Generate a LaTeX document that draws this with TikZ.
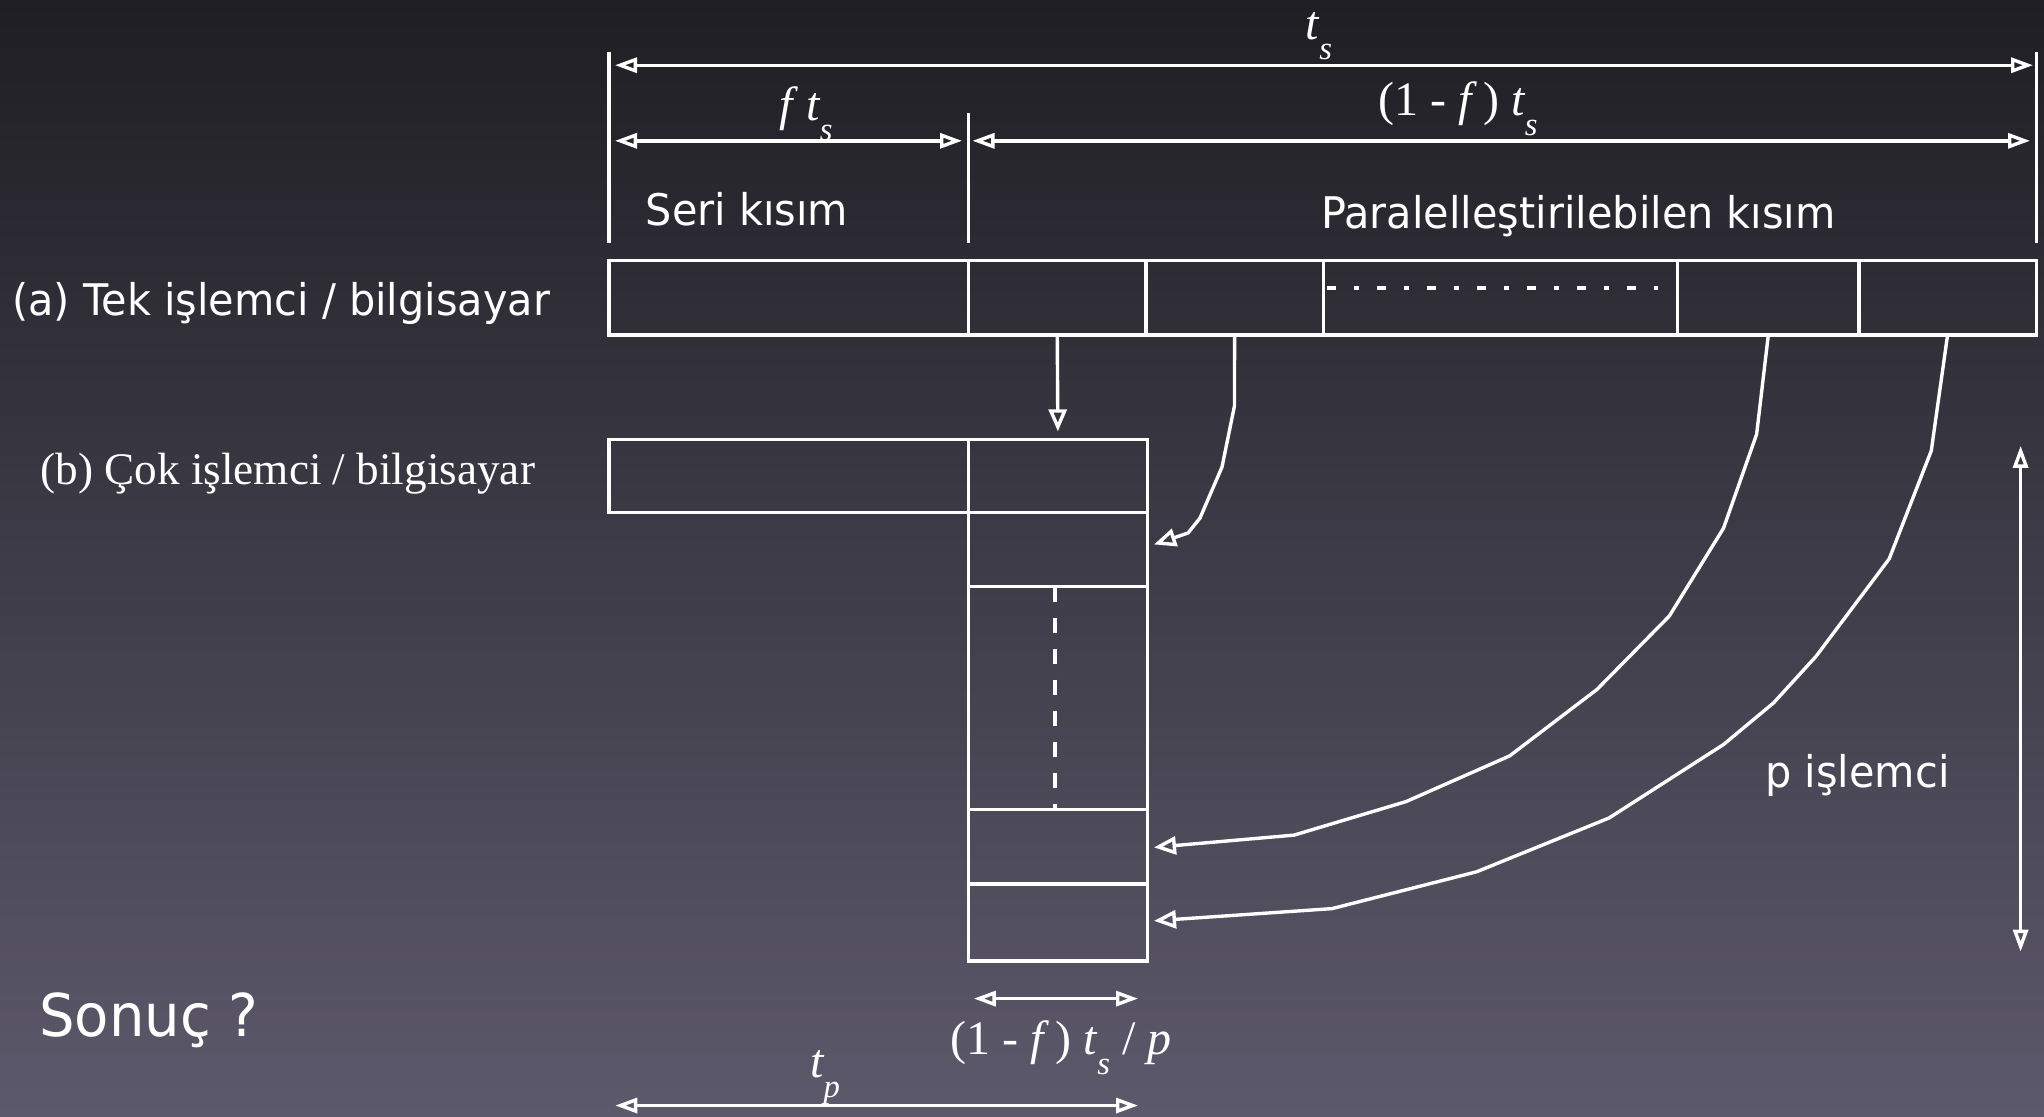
\documentclass[tikz,border=0pt]{standalone}
\usepackage{fontspec}
\setmainfont{Liberation Serif}
\newfontfamily\dvsans{DejaVu Sans}[FakeStretch=0.95]
\usetikzlibrary{arrows.meta,fit,calc}
\newcommand\lowsub[1]{\raisebox{-0.42em}{\scalebox{0.68}{\itshape #1}}}
\newcommand\mt[1]{{\itshape #1}}
\definecolor{bgtop}{RGB}{30,30,35}
\definecolor{bgbot}{RGB}{93,89,108}
\begin{document}
\begin{tikzpicture}[x=0.5pt,y=-0.5pt,
  ln/.style={draw=white, line width=1.7pt},
  cellbox/.style={draw=white, line width=1.7pt, inner sep=0pt, outer sep=0pt},
  arr/.style={draw=white, line width=1.7pt, line join=round, -{Triangle[open,length=11pt,width=9pt]}},
  dimarr/.style={draw=white, line width=1.7pt, {Triangle[open,length=11pt,width=7.5pt]}-{Triangle[open,length=11pt,width=7.5pt]}},
  sanslbl/.style={text=white, font=\dvsans\fontsize{21.8}{24}\selectfont, inner sep=0pt, anchor=base},
  seriflbl/.style={text=white, font=\fontsize{24}{28}\selectfont, inner sep=0pt, anchor=base},
]
\shade[top color=bgtop, bottom color=bgbot] (0,0) rectangle (2044,1116);
\useasboundingbox (0,0) rectangle (2044,1116);

% top bar
\node[cellbox, fit={(608.8,260.7)(968.6,335)}] (s0) {};
\node[cellbox, fit={(968.6,260.7)(1145.9,335)}] (p1) {};
\node[cellbox, fit={(1145.9,260.7)(1323.2,335)}] (p2) {};
\node[cellbox, fit={(1323.2,260.7)(1677.7,335)}] (p3) {};
\node[cellbox, fit={(1677.7,260.7)(1858.9,335)}] (p4) {};
\node[cellbox, fit={(1858.9,260.7)(2036.2,335)}] (p5) {};
\draw[white, line width=2.2pt, dash pattern=on 4.5pt off 9pt on 2.5pt off 9pt] (1327,288) -- (1658,288);

% multiprocessor column
\node[cellbox, fit={(608.8,439.3)(968.6,512.3)}] (sb) {};
\node[cellbox, fit={(968.6,439.3)(1147.2,512.3)}] (q1) {};
\node[cellbox, fit={(968.6,512.3)(1147.2,586.6)}] (q2) {};
\node[cellbox, fit={(968.6,586.6)(1147.2,809.5)}] (q3) {};
\node[cellbox, fit={(968.6,809.5)(1147.2,883.8)}] (q4) {};
\node[cellbox, fit={(968.6,883.8)(1147.2,960.8)}] (q5) {};
\draw[white, line width=2pt, dash pattern=on 7.5pt off 8pt] ($(q3.north)+(-3,0)$) -- ($(q3.south)+(-3,0)$);

% mapping arrows
\draw[arr, shorten >=4pt] (p1.south) -- (q1.north);
\draw[arr] (p2.south) -- (1234.5,405.7) -- (1222,467) -- (1200,518) -- (1188,533) -- ($(q2.east)+(6.8,-5)$);
\draw[arr] (p4.south) -- (1756.6,434.3) -- (1723.5,528.2) -- (1669.3,616) -- (1597,689.4) -- (1509.6,755.9) -- (1406,801.6) -- (1294,835.1) -- ($(q4.east)+(6.8,0.7)$);
\draw[arr] (p5.south) -- (1931.3,450.6) -- (1889.2,558.8) -- (1815.7,656.7) -- (1773.5,702.9) -- (1723.5,744.5) -- (1609,818) -- (1476.5,871.8) -- (1332,908.6) -- ($(q5.east)+(6.8,-1.5)$);

% dimension lines
\coordinate (vLt) at (608.8,52);   \coordinate (vLb) at (608.8,242.5);
\coordinate (vRt) at (2036.2,52);  \coordinate (vRb) at (2036.2,242.5);
\coordinate (vMt) at (968.6,113.4); \coordinate (vMb) at (968.6,242.5);
\draw[ln] (vLt) -- (vLb);
\draw[ln] (vRt) -- (vRb);
\draw[ln] (vMt) -- (vMb);
\coordinate (tsA) at (615,65.2);   \coordinate (tsB) at (2033,65.2);
\coordinate (ftA) at (615,140.8);  \coordinate (ftB) at (962,140.8);
\coordinate (pfA) at (972.5,140.8); \coordinate (pfB) at (2030,140.8);
\coordinate (npA) at (2020.6,445.8); \coordinate (npB) at (2020.6,951.6);
\coordinate (smA) at (973.8,998.6); \coordinate (smB) at (1138,998.6);
\coordinate (tpA) at (615.3,1105.5); \coordinate (tpB) at (1138,1105.5);
\draw[dimarr] (tsA) -- (tsB);
\draw[dimarr] (ftA) -- (ftB);
\draw[dimarr] (pfA) -- (pfB);
\draw[dimarr] (npA) -- (npB);
\draw[dimarr] (smA) -- (smB);
\draw[dimarr] (tpA) -- (tpB);

% math labels
\node[seriflbl] (lts) at (1319,39) {\mt{t}\lowsub{s}};
\node[seriflbl] (lfts) at (806,120) {\mt{f}\hspace{7pt}\mt{t}\lowsub{s}};
\node[seriflbl] (lpf) at (1458,115) {(1 - \mt{f} ) \mt{t}\lowsub{s}};
\node[seriflbl] (lpfp) at (1061,1054) {(1 - \mt{f} ) \mt{t}\lowsub{s} / \mt{p}};
\node[seriflbl] (ltp) at (825,1077) {\mt{t}\lowsub{p}};

% text labels
\node[sanslbl] (seri) at (747,225) {Seri kısım};
\node[sanslbl] (paral) at (1578.6,228) {Paralelleştirilebilen kısım};
\node[sanslbl, anchor=base west] (la) at (12,315.5) {(a) Tek işlemci / bilgisayar};
\node[text=white, inner sep=0pt, anchor=base west, font=\fontsize{22.6}{26}\selectfont] (lb) at (40,484) {(b) Çok işlemci / bilgisayar};
\node[sanslbl, anchor=base west] (pis) at (1765,787) {p işlemci};
\node[sanslbl, anchor=base west, font=\dvsans\fontsize{29.5}{34}\selectfont] (son) at (39,1036) {Sonuç ?};
\end{tikzpicture}
\end{document}
